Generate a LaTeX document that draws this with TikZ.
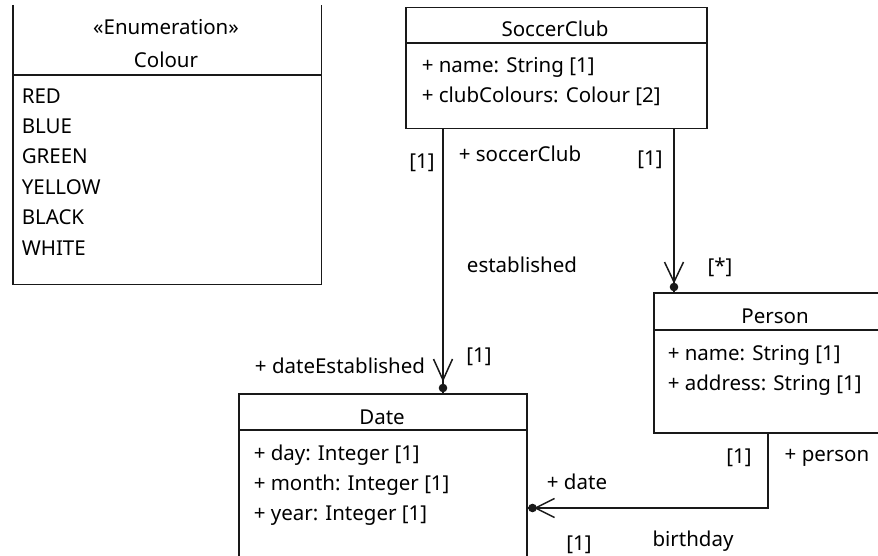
\documentclass[tikz,border=0pt]{standalone}
\usepackage{fontspec}
\setmainfont{Noto Sans}
\usetikzlibrary{calc}
\begin{document}
\begin{tikzpicture}[x=1pt,y=-1pt,line width=1.5pt,
  txt/.style={font=\fontsize{20.5}{24}\selectfont,inner sep=0pt,text=black},
  attr/.style={txt,anchor=base west},
  ttl/.style={txt,anchor=base},
  lbl/.style={txt,anchor=center},
  classbox/.style={draw=black!90,anchor=north west,inner sep=0pt},
  conn/.style={draw=black!90,line width=1.5pt},
  ]
\useasboundingbox (0,0) rectangle (878,556);

% ---- Colour enumeration (top cut off) ----
\node[anchor=north west,inner sep=0pt,minimum width=307pt,minimum height=278pt] (col) at (13,5) {};
\draw[black!90] (col.north west) -- (col.south west) -- (col.south east) -- (col.north east);
\draw[black!90] (col.west |- 0,75) -- (col.east |- 0,75);
\node[ttl] (colst) at (166,35) {«Enumeration»};
\node[ttl] (colnm) at (166,68) {Colour};
\node[attr] (c1) at (21,104) {RED};
\node[attr] (c2) at (21,134) {BLUE};
\node[attr] (c3) at (21,164) {GREEN};
\node[attr] (c4) at (21,195) {YELLOW};
\node[attr] (c5) at (21,225) {BLACK};
\node[attr] (c6) at (21,255) {WHITE};

% ---- SoccerClub ----
\node[classbox,minimum width=301pt,minimum height=121pt] (sc) at (405,7) {};
\draw[black!90] (sc.west |- 0,43) -- (sc.east |- 0,43);
\node[ttl] (scn) at (555,37) {SoccerClub};
\node[attr] (sc1) at (421,73) {+ name: String [1]};
\node[attr] (sc2) at (421,103) {+ clubColours: Colour [2]};

% ---- Date (bottom cut off) ----
\node[classbox,minimum width=288pt,minimum height=200pt] (dt) at (238,393) {};
\draw[black!90] (dt.west |- 0,430) -- (dt.east |- 0,430);
\node[ttl] (dtn) at (382,424) {Date};
\node[attr] (d1) at (253,460) {+ day: Integer [1]};
\node[attr] (d2) at (253,490) {+ month: Integer [1]};
\node[attr] (d3) at (253,520) {+ year: Integer [1]};

% ---- Person (right cut off) ----
\node[classbox,minimum width=260pt,minimum height=140pt] (ps) at (653,292) {};
\draw[black!90] (ps.west |- 0,330) -- (ps.east |- 0,330);
\node[ttl] (psn) at (775,323) {Person};
\node[attr] (p1) at (667,360) {+ name: String [1]};
\node[attr] (p2) at (667,390) {+ address: String [1]};

% ---- established ----
\coordinate (e1) at (sc.south -| 443,0);
\coordinate (e2) at (dt.north -| 443,0);
\draw[conn] (e1) -- (e2);
\fill[black!90] ($(e2)+(0,-5)$) circle (4.3pt);
\draw[conn] ($(e2)+(-9.5,-34)$) -- ($(e2)+(0,-13)$) -- ($(e2)+(9.5,-34)$);

% ---- club members ----
\coordinate (m1) at (sc.south -| 674,0);
\coordinate (m2) at (ps.north -| 674,0);
\draw[conn] (m1) -- (m2);
\fill[black!90] ($(m2)+(0,-5)$) circle (4.3pt);
\draw[conn] ($(m2)+(-9.5,-30)$) -- ($(m2)+(0,-10)$) -- ($(m2)+(9.5,-30)$);

% ---- birthday ----
\coordinate (b1) at (ps.south -| 768,0);
\coordinate (b3) at (dt.east |- 0,508);
\draw[conn] (b1) |- (b3);
\fill[black!90] ($(b3)+(5,0)$) circle (4.3pt);
\draw[conn] ($(b3)+(27,-9.5)$) -- ($(b3)+(8,0)$) -- ($(b3)+(27,9.5)$);

% ---- labels ----
\node[lbl] (l1) at (422,163) {[1]};
\node[lbl] (l2) at (520,154) {+ soccerClub};
\node[lbl] (l3) at (650,160) {[1]};
\node[lbl] (l4) at (522,265) {established};
\node[lbl] (l5) at (720,267) {[*]};
\node[lbl] (l6) at (340,366) {+ dateEstablished};
\node[lbl] (l7) at (479,357) {[1]};
\node[lbl] (l8) at (739,458) {[1]};
\node[lbl] (l9) at (827,458) {+ person};
\node[lbl] (l10) at (577,482) {+ date};
\node[lbl] (l11) at (579,545) {[1]};
\node[lbl] (l12) at (693,541) {birthday};
\end{tikzpicture}
\end{document}
